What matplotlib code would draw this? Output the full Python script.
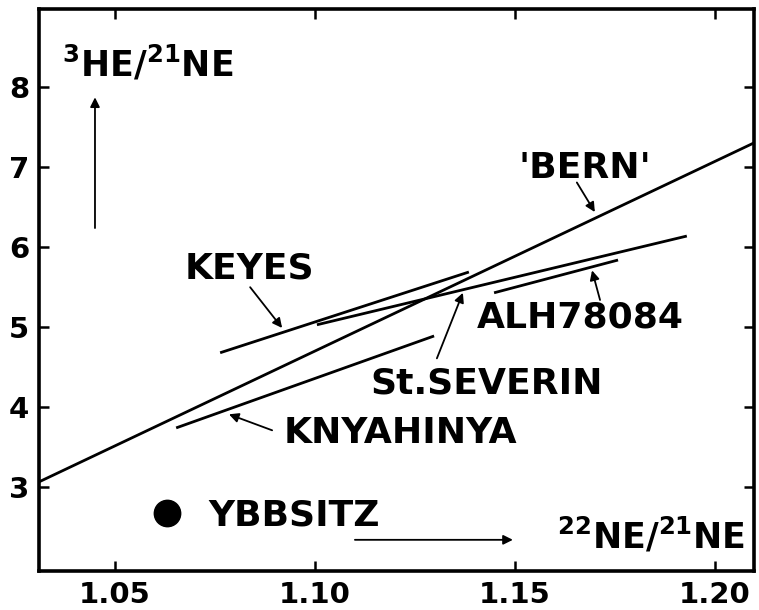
import matplotlib
matplotlib.use("Agg")
import matplotlib.pyplot as plt

plt.rcParams['font.family'] = ['DejaVu Sans']
plt.rcParams['font.weight'] = 'bold'
plt.rcParams['mathtext.default'] = 'regular'

# exposure-age trend lines, 3He/21Ne vs 22Ne/21Ne
names = ["'BERN'", "KEYES", "ALH78084", "St.SEVERIN", "KNYAHINYA"]
seg_x = [[1.0308, 1.2100], [1.0763, 1.1385], [1.1448, 1.1758],
         [1.1005, 1.1930], [1.0653, 1.1298]]
seg_y = [[3.06, 7.31], [4.68, 5.69], [5.43, 5.84], [5.03, 6.14], [3.74, 4.89]]

# single measured point
point_name = "YBBSITZ"
point_x = [1.063]
point_y = [2.675]

xticks = [1.05, 1.10, 1.15, 1.20]
xticklabels = ["1.05", "1.10", "1.15", "1.20"]
yticks = [3, 4, 5, 6, 7, 8]

W, H = 759, 610
fig = plt.figure(figsize=(W / 100, H / 100), dpi=100)
ax = fig.add_axes([39 / W, (H - 571) / H, (754 - 39) / W, (571 - 9) / H])

for xs, ys in zip(seg_x, seg_y):
    ax.plot(xs, ys, color='black', lw=2.0, solid_capstyle='butt')
ax.plot(point_x, point_y, 'o', color='black', ms=19)

ax.set_xlim(1.0310, 1.2098)
ax.set_ylim(1.95, 8.98)
ax.set_xticks(xticks)
ax.set_xticklabels(xticklabels)
ax.set_yticks(yticks)
ax.tick_params(direction='in', length=7, width=1.8, top=True, right=True,
               labelsize=21)
ax.tick_params(axis='x', pad=7)
ax.tick_params(axis='y', pad=7)
for s in ax.spines.values():
    s.set_linewidth(2.6)

# curve labels (text position, arrow tail, arrow head)
labels = {
    "'BERN'": ((1.1675, 6.86), (1.1655, 6.81), (1.1700, 6.44)),
    "KEYES": ((1.0835, 5.61), (1.0838, 5.50), (1.0918, 4.99)),
    "ALH78084": ((1.1663, 5.00), (1.1713, 5.34), (1.1693, 5.71)),
    "St.SEVERIN": ((1.1430, 4.175), (1.1305, 4.61), (1.1370, 5.43)),
    "KNYAHINYA": ((1.1213, 3.55), (1.0893, 3.71), (1.0785, 3.91)),
}
for name in names:
    (tx, ty), tail, head = labels[name]
    ax.text(tx, ty, name, fontsize=26, ha='center', va='baseline')
    ax.annotate('', xy=head, xytext=tail,
                arrowprops=dict(arrowstyle='-|>', lw=1.3, color='black',
                                mutation_scale=14, shrinkA=0, shrinkB=0))

ax.text(1.0733, 2.525, point_name, fontsize=26, ha='left', va='baseline')

# axis direction arrows
ax.annotate('', xy=(1.045, 7.875), xytext=(1.045, 6.24),
            arrowprops=dict(arrowstyle='-|>', lw=1.3, color='black',
                            mutation_scale=14, shrinkA=0, shrinkB=0))
ax.annotate('', xy=(1.1495, 2.34), xytext=(1.110, 2.34),
            arrowprops=dict(arrowstyle='-|>', lw=1.3, color='black',
                            mutation_scale=14, shrinkA=0, shrinkB=0))

# axis names written inside the frame
fig.text(62 / W, (H - 77) / H, r'$^{3}$HE/$^{21}$NE', fontsize=25,
         ha='left', va='baseline')
fig.text(745 / W, (H - 548) / H, r'$^{22}$NE/$^{21}$NE', fontsize=25,
         ha='right', va='baseline')

fig.savefig("out.png", dpi=100)
